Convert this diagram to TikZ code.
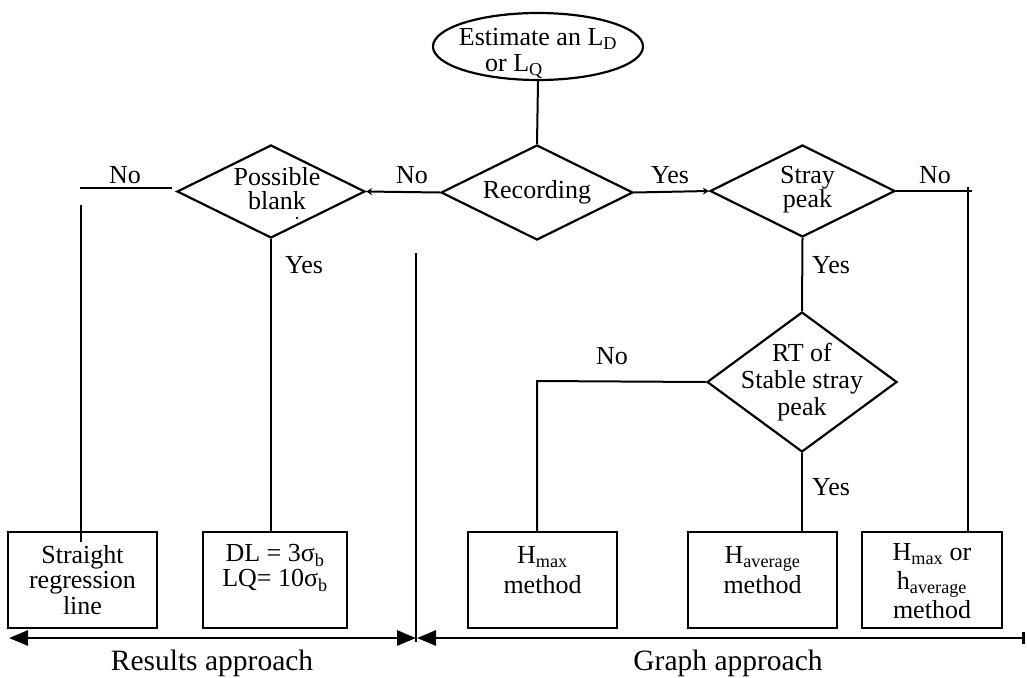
\documentclass[tikz,border=0pt]{standalone}
\usepackage{fontspec}
\setmainfont{Liberation Serif}
\usetikzlibrary{shapes.geometric,arrows.meta}
\tikzset{bigtip/.tip={Triangle[length=19pt,width=15pt]}}
\begin{document}
\begin{tikzpicture}[x=1pt,y=-1pt,
  every node/.style={font=\fontsize{26}{24}\selectfont},
  shp/.style={draw,line width=2.2pt,inner sep=0pt},
  dec/.style={shp,diamond},
  box/.style={shp,rectangle,minimum height=96pt},
  conn/.style={line width=2pt},
  lab/.style={anchor=base,inner sep=0pt},
  tip/.style={-{Stealth[length=6pt,width=7pt]}},
  axis/.style={line width=2.8pt}]
\useasboundingbox (0,0) rectangle (1027,677);

% start
\node[shp,ellipse,minimum width=210pt,minimum height=67pt,
  label={[align=center,font=\fontsize{26}{26}\selectfont,yshift=-7pt]center:Estimate an L\textsubscript{D}\\or L\textsubscript{Q}\hspace*{48pt}}] (start) at (538,46.5) {};

% decisions
\node[dec,minimum width=192pt,minimum height=95pt,label=center:Recording] (rec) at (537,192.5) {};
\node[dec,minimum width=188pt,minimum height=93pt,
  label={[align=center,xshift=6pt,yshift=3pt]center:Possible\\blank}] (pb) at (271,191.5) {};
\node[dec,minimum width=185pt,minimum height=92pt,
  label={[align=center,xshift=5pt,yshift=1pt]center:Stray\\peak}] (stray) at (802.5,191) {};
\node[dec,minimum width=190pt,minimum height=140pt,
  label={[align=center,font=\fontsize{26}{27}\selectfont]center:RT of\\Stable stray\\peak}] (rt) at (802,382) {};

% result boxes
\node[box,minimum width=149pt,
  label={[align=center,font=\fontsize{26}{25.5}\selectfont]center:Straight\\regression\\line}] (sr) at (82.5,580) {};
\node[box,minimum width=144pt,
  label={[align=center,yshift=12pt,font=\fontsize{26}{25}\selectfont]center:DL = 3σ\textsubscript{b}\\LQ= 10σ\textsubscript{b}}] (dl) at (275,580) {};
\node[box,minimum width=149pt,
  label={[align=center,yshift=10pt,font=\fontsize{26}{30}\selectfont]center:H\textsubscript{max}\\method}] (hmax) at (542.5,580) {};
\node[box,minimum width=149pt,
  label={[align=center,yshift=10pt,font=\fontsize{26}{30}\selectfont]center:H\textsubscript{average}\\method}] (havg) at (762.5,580) {};
\node[box,minimum width=140pt,
  label={[align=center,yshift=-1pt,font=\fontsize{26}{29}\selectfont]center:H\textsubscript{max} or\\h\textsubscript{average}\\method}] (hor) at (932,580) {};

% helper coordinates
\coordinate (na) at (172,188);
\coordinate (nb) at (80,188);
\coordinate (va) at (81,205);
\coordinate (da) at (416,253);
\coordinate (db) at (416,642);
\coordinate (sc) at (968,187);
\coordinate (se) at (972,191);
\coordinate (rc) at (537,381);
\coordinate (la) at (9,638);
\coordinate (lb) at (416,638);
\coordinate (ra) at (417,638);
\coordinate (rb) at (1025,638);

% connectors
\draw[conn] (start.south) -- (rec.north);
\draw[conn,tip] (rec.west) -- (pb.east);
\draw[conn] (na) -- (nb);
\draw[conn] (va) -- ([yshift=-11pt]va |- sr.north);
\draw[conn] (pb.south) -- (pb.south |- dl.north);
\draw[conn] (da) -- (db);
\draw[conn,tip] (rec.east) -- (stray.west);
\draw[conn] (stray.east) -- (se);
\draw[conn] (sc) -- (sc |- hor.north);
\draw[conn] (stray.south) -- (rt.north);
\draw[conn] (rt.west) -- (rc) -- (rc |- hmax.north);
\draw[conn] (rt.south) -- (rt.south |- havg.north);
\fill (297,218) circle (1.3pt);

% bottom axes
\draw[axis,{bigtip}-{bigtip}] (la) -- (lb);
\draw[axis,{bigtip}-{Bar[width=12pt]}] (ra) -- (rb);

% labels
\node[lab] (no1) at (125,183) {No};
\node[lab] (no2) at (412,183) {No};
\node[lab] (yes1) at (304,273) {Yes};
\node[lab] (yes2) at (670,183) {Yes};
\node[lab] (no3) at (935,183) {No};
\node[lab] (yes3) at (831,273) {Yes};
\node[lab] (no4) at (612,364) {No};
\node[lab] (yes4) at (831,495) {Yes};
\node[lab,font=\fontsize{29.5}{30}\selectfont] (res) at (212,670) {Results approach};
\node[lab,font=\fontsize{29.5}{30}\selectfont] (graph) at (728,670) {Graph approach};
\end{tikzpicture}
\end{document}
